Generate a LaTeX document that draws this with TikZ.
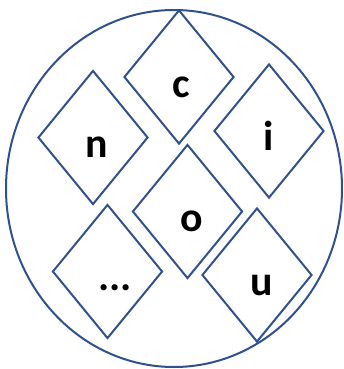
\documentclass[tikz,border=0pt]{standalone}
\usepackage{fontspec}
\setmainfont{Carlito}
\usetikzlibrary{shapes.geometric}
\definecolor{lineblue}{RGB}{47,82,143}
\tikzset{
  dia/.style={diamond, draw=lineblue, line width=2bp, inner sep=0pt, minimum width=110bp, minimum height=134bp, aspect=0.82},
  lbl/.style={anchor=base, inner sep=0pt, font=\fontsize{42}{44}\selectfont\bfseries},
}
\begin{document}
\begin{tikzpicture}[x=1bp, y=-1bp]
\useasboundingbox (0,0) rectangle (344,369);
\node[ellipse, draw=lineblue, line width=2bp, minimum width=336bp, minimum height=357bp, inner sep=0pt] (outer) at (174,188.5) {};
\node[dia] (dc) at (179,77) {};
\node[dia] (dn) at (93,137.5) {};
\node[dia] (di) at (269,131) {};
\node[dia] (do) at (187.5,211.5) {};
\node[dia] (dd) at (107.5,271.5) {};
\node[dia] (du) at (257,275) {};
\node[lbl] (tc) at (181,97) {c};
\node[lbl] (tn) at (97,157) {n};
\node[lbl] (ti) at (269,150) {i};
\node[lbl] (to) at (191.5,231) {o};
\node[lbl] (td) at (115,290) {...};
\node[lbl] (tu) at (262,295) {u};
\end{tikzpicture}
\end{document}
